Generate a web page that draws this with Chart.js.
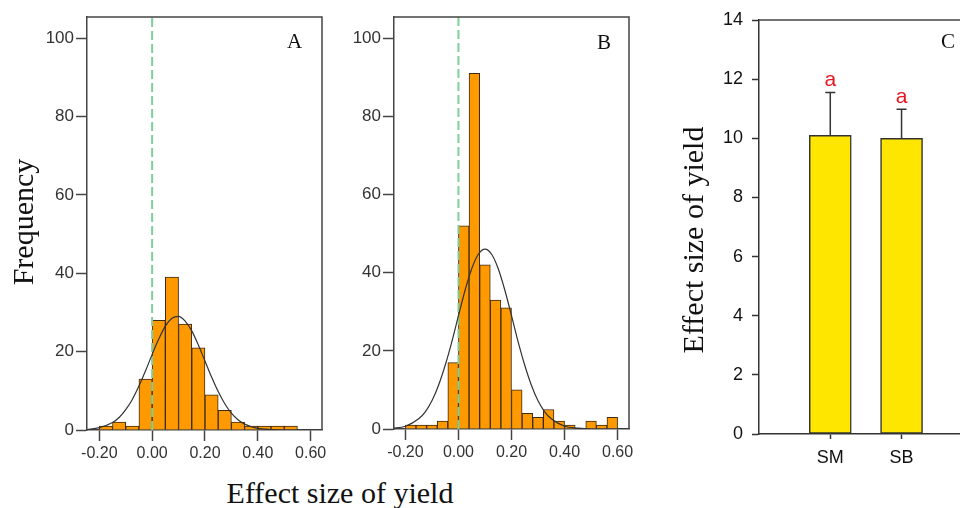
<!DOCTYPE html>
<html>
<head>
<meta charset="utf-8">
<script src="https://cdn.jsdelivr.net/npm/chart.js@4.4.1/dist/chart.umd.min.js"></script>
<style>
    body { margin: 0; background: #fff; }
    #wrap { position: relative; width: 960px; height: 508px; overflow: hidden; background: #fff; }
    canvas { position: absolute; top: 0; }
    .lbl { position: absolute; font-family: "Liberation Serif", "Times New Roman", serif; color: #111; white-space: nowrap; }
    .ttl { font-size: 30px; line-height: 34px; width: 300px; height: 34px; text-align: center; }
    .rot { transform: rotate(-90deg); }
    .panel { font-size: 21px; line-height: 24px; }
</style>
</head>
<body>
<div id="wrap">
    <canvas id="chartA" width="330" height="470" style="left:0px"></canvas>
    <canvas id="chartB" width="320" height="470" style="left:330px"></canvas>
    <canvas id="chartC" width="310" height="470" style="left:650px"></canvas>
    <div class="lbl ttl rot" style="left:-127px;top:205px">Frequency</div>
    <div class="lbl ttl" style="left:190px;top:476px">Effect size of yield</div>
    <div class="lbl ttl rot" style="left:543px;top:223px">Effect size of yield</div>
    <div class="lbl panel" style="left:287px;top:29px">A</div>
    <div class="lbl panel" style="left:597px;top:30px">B</div>
    <div class="lbl panel" style="left:941px;top:29px">C</div>
</div>
<script>
// panel A: histogram, bin width 0.05 (lower edges)
var binsA = [-0.20, -0.15, -0.10, -0.05, 0.00, 0.05, 0.10, 0.15, 0.20, 0.25, 0.30, 0.35, 0.40, 0.45, 0.50];
var countsA = [1, 2, 1, 13, 28, 39, 27, 21, 9, 5, 2, 1, 1, 1, 1];
var curveXA = [-0.25, -0.20, -0.15, -0.125, -0.10, -0.075, -0.05, -0.025, 0.00, 0.025, 0.05, 0.075, 0.10, 0.125, 0.15, 0.175, 0.20, 0.225, 0.25, 0.275, 0.30, 0.325, 0.35, 0.40, 0.45, 0.50, 0.65];
var curveYA = [0.1, 0.6, 1.9, 3.2, 5.2, 7.8, 11.2, 15.1, 19.3, 23.2, 26.5, 28.5, 29.0, 27.8, 25.3, 21.7, 17.6, 13.5, 9.8, 6.7, 4.3, 2.6, 1.5, 0.4, 0.1, 0, 0];

// panel B: histogram, bin width 0.04 (lower edges)
var binsB = [-0.20, -0.16, -0.12, -0.08, -0.04, 0.00, 0.04, 0.08, 0.12, 0.16, 0.20, 0.24, 0.28, 0.32, 0.36, 0.40, 0.44, 0.48, 0.52, 0.56];
var countsB = [1, 1, 1, 2, 17, 52, 91, 42, 33, 31, 10, 4, 3, 5, 2, 1, 0, 2, 1, 3];
var curveXB = [-0.25, -0.20, -0.15, -0.125, -0.10, -0.075, -0.05, -0.025, 0.00, 0.025, 0.05, 0.075, 0.10, 0.125, 0.15, 0.175, 0.20, 0.225, 0.25, 0.275, 0.30, 0.325, 0.35, 0.40, 0.45, 0.50, 0.65];
var curveYB = [0.2, 0.7, 2.6, 4.4, 7.2, 11.2, 16.3, 22.3, 29.0, 35.5, 41.0, 44.7, 46.0, 44.7, 41.0, 35.5, 29.0, 22.3, 16.3, 11.2, 7.2, 4.4, 2.6, 0.7, 0.2, 0, 0];

var freqTicks = [0, 20, 40, 60, 80, 100];
var effectTicks = [-0.20, 0.00, 0.20, 0.40, 0.60];

// panel C: mean effect size with error
var groups = ['SM', 'SB'];
var yieldEffect = [10.1, 10.0];
var yieldErr = [1.45, 0.98];
var sigLetters = ['a', 'a'];
var effectTicksC = [0, 2, 4, 6, 8, 10, 12, 14];

var axisColor = '#444';

function boxFrame(onlyTop) {
    return {
        id: 'boxFrame',
        afterDatasetsDraw: function(chart) {
            var a = chart.chartArea;
            var ctx = chart.ctx;
            ctx.save();
            ctx.strokeStyle = axisColor;
            ctx.lineWidth = 1.5;
            ctx.beginPath();
            ctx.moveTo(a.left, a.top);
            ctx.lineTo(a.right, a.top);
            if (!onlyTop) ctx.lineTo(a.right, a.bottom);
            ctx.stroke();
            ctx.restore();
        }
    };
}

function histChart(id, bins, counts, binWidth, curveX, curveY, xMin, xMax, yAxisW, xAxisH, padRight) {
    var yMax = 105.4;
    var bars = bins.map(function(b, i) { return { x: b + binWidth / 2, y: counts[i] }; });
    var curve = curveX.map(function(x, i) { return { x: x, y: curveY[i] }; });

    return new Chart(document.getElementById(id), {
        type: 'bar',
        data: {
            datasets: [{
                type: 'line',
                data: curve,
                borderColor: '#333',
                borderWidth: 1.2,
                pointRadius: 0,
                cubicInterpolationMode: 'monotone',
                fill: false
            }, {
                type: 'line',
                data: [{ x: 0, y: 0 }, { x: 0, y: yMax }],
                borderColor: '#7fcf9c',
                borderWidth: 2,
                borderDash: [9, 4],
                pointRadius: 0
            }, {
                type: 'bar',
                data: bars,
                backgroundColor: '#ff9900',
                borderColor: '#3b2a14',
                borderWidth: 1,
                barPercentage: 1,
                categoryPercentage: 1
            }]
        },
        options: {
            responsive: false,
            animation: false,
            devicePixelRatio: 1,
            layout: { padding: { top: 17, right: padRight, left: 0, bottom: 0 } },
            plugins: { legend: { display: false }, tooltip: { enabled: false } },
            scales: {
                x: {
                    type: 'linear',
                    offset: false,
                    min: xMin,
                    max: xMax,
                    afterBuildTicks: function(s) { s.ticks = effectTicks.map(function(v) { return { value: v }; }); },
                    afterFit: function(s) { s.height = xAxisH; },
                    ticks: {
                        callback: function(v) { return v.toFixed(2); },
                        font: { family: 'Liberation Sans', size: 16 },
                        color: '#333',
                        padding: 3,
                        maxRotation: 0,
                        autoSkip: false
                    },
                    grid: { offset: false, drawOnChartArea: false, tickLength: 11, tickColor: axisColor, tickWidth: 1.5 },
                    border: { color: axisColor, width: 1.5 }
                },
                y: {
                    min: 0,
                    max: yMax,
                    afterBuildTicks: function(s) { s.ticks = freqTicks.map(function(v) { return { value: v }; }); },
                    afterFit: function(s) { s.width = yAxisW; },
                    ticks: {
                        font: { family: 'Liberation Sans', size: 17 },
                        color: '#333',
                        padding: 2
                    },
                    grid: { drawOnChartArea: false, tickLength: 11, tickColor: axisColor, tickWidth: 1.5 },
                    border: { color: axisColor, width: 1.5 }
                }
            }
        },
        plugins: [boxFrame(false)]
    });
}

histChart('chartA', binsA, countsA, 0.05, curveXA, curveYA, -0.2466, 0.643, 87, 40, 8);
histChart('chartB', binsB, countsB, 0.04, curveXB, curveYB, -0.243, 0.643, 64, 41, 21);

var errorBars = {
    id: 'errorBars',
    afterDatasetsDraw: function(chart) {
        var ctx = chart.ctx;
        var xs = chart.scales.x;
        var ys = chart.scales.y;
        ctx.save();
        for (var i = 0; i < groups.length; i++) {
            var x = xs.getPixelForValue(i + 1);
            var y0 = ys.getPixelForValue(yieldEffect[i]);
            var y1 = ys.getPixelForValue(yieldEffect[i] + yieldErr[i]);
            ctx.strokeStyle = '#333';
            ctx.lineWidth = 1.5;
            ctx.beginPath();
            ctx.moveTo(x, y0);
            ctx.lineTo(x, y1);
            ctx.moveTo(x - 5, y1);
            ctx.lineTo(x + 5, y1);
            ctx.stroke();
            ctx.fillStyle = '#e8141e';
            ctx.font = '21px "Liberation Sans"';
            ctx.textAlign = 'center';
            ctx.textBaseline = 'alphabetic';
            ctx.fillText(sigLetters[i], x, y1 - 6);
        }
        ctx.restore();
    }
};

new Chart(document.getElementById('chartC'), {
    type: 'bar',
    data: {
        datasets: [{
            data: groups.map(function(g, i) { return { x: i + 1, y: yieldEffect[i] }; }),
            backgroundColor: '#ffe600',
            borderColor: '#333',
            borderWidth: 1.5,
            borderSkipped: false,
            barThickness: 42
        }]
    },
    options: {
        responsive: false,
        animation: false,
        devicePixelRatio: 1,
        layout: { padding: { top: 20, right: 0, left: 0, bottom: 0 } },
        plugins: { legend: { display: false }, tooltip: { enabled: false } },
        scales: {
            x: {
                type: 'linear',
                offset: false,
                min: 0,
                max: 2.82,
                afterBuildTicks: function(s) { s.ticks = groups.map(function(g, i) { return { value: i + 1 }; }); },
                afterFit: function(s) { s.height = 36; },
                ticks: {
                    callback: function(v) { return groups[Math.round(v) - 1]; },
                    font: { family: 'Liberation Sans', size: 18 },
                    color: '#111',
                    padding: 8,
                    maxRotation: 0,
                    autoSkip: false
                },
                grid: { offset: false, drawOnChartArea: false, tickLength: 5, tickColor: '#333', tickWidth: 1.5 },
                border: { color: '#333', width: 1.5 }
            },
            y: {
                min: 0,
                max: 14,
                afterBuildTicks: function(s) { s.ticks = effectTicksC.map(function(v) { return { value: v }; }); },
                afterFit: function(s) { s.width = 109; },
                ticks: {
                    font: { family: 'Liberation Sans', size: 18 },
                    color: '#111',
                    padding: 9
                },
                grid: { drawOnChartArea: false, tickLength: 7, tickColor: '#333', tickWidth: 1.5 },
                border: { color: '#333', width: 1.5 }
            }
        }
    },
    plugins: [errorBars, boxFrame(true)]
});
</script>
</body>
</html>
